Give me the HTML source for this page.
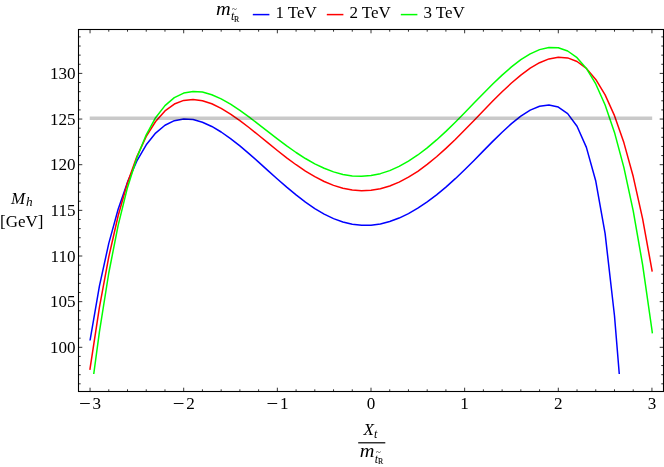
<!DOCTYPE html>
<html><head><meta charset="utf-8"><title>Mh plot</title>
<style>html,body{margin:0;padding:0;background:#fff;}body{width:664px;height:467px;overflow:hidden;}svg{display:block;will-change:transform;}text{font-family:"Liberation Serif",serif;fill:#000;}</style>
</head><body>
<svg width="664" height="467" viewBox="0 0 664 467">
<rect x="0" y="0" width="664" height="467" fill="#fff"/>
<path d="M90.03 340.50 L90.05 340.34 L99.41 286.17 L108.78 243.36 L118.14 209.24 L127.51 182.13 L136.88 160.91 L146.24 144.78 L155.60 133.07 L164.97 125.21 L174.33 120.66 L183.70 118.94 L193.06 119.59 L202.43 122.21 L211.79 126.45 L221.16 131.99 L230.52 138.56 L239.89 145.91 L249.25 153.84 L258.62 162.12 L267.99 170.57 L277.35 178.98 L286.71 187.17 L296.08 194.95 L305.44 202.14 L314.81 208.57 L324.18 214.11 L333.54 218.63 L342.90 222.04 L352.27 224.30 L361.63 225.36 L371.00 225.23 L380.37 223.94 L389.73 221.53 L399.10 218.06 L408.46 213.59 L417.82 208.18 L427.19 201.92 L436.56 194.86 L445.92 187.08 L455.29 178.68 L464.65 169.74 L474.01 160.42 L483.38 150.89 L492.75 141.39 L502.11 132.19 L511.48 123.64 L520.84 116.15 L530.21 110.16 L539.57 106.21 L548.94 104.91 L558.30 107.02 L567.66 113.60 L577.03 126.22 L586.39 147.36 L595.76 181.03 L605.12 233.70 L614.49 315.75 L619.28 374.00" fill="none" stroke="#0000ff" stroke-width="1.5" stroke-linejoin="round" stroke-linecap="butt"/>
<path d="M89.88 369.90 L90.05 368.70 L99.41 307.37 L108.78 256.88 L118.14 215.75 L127.51 182.69 L136.88 156.59 L146.24 136.47 L155.60 121.49 L164.97 110.90 L174.33 104.06 L183.70 100.40 L193.06 99.42 L202.43 100.67 L211.79 103.76 L221.16 108.31 L230.52 114.03 L239.89 120.60 L249.25 127.77 L258.62 135.29 L267.99 142.94 L277.35 150.52 L286.71 157.84 L296.08 164.74 L305.44 171.06 L314.81 176.68 L324.18 181.47 L333.54 185.35 L342.90 188.22 L352.27 190.02 L361.63 190.72 L371.00 190.27 L380.37 188.68 L389.73 185.95 L399.10 182.10 L408.46 177.19 L417.82 171.27 L427.19 164.44 L436.56 156.77 L445.92 148.40 L455.29 139.45 L464.65 130.07 L474.01 120.42 L483.38 110.69 L492.75 101.07 L502.11 91.77 L511.48 83.02 L520.84 75.08 L530.21 68.21 L539.57 62.72 L548.94 58.92 L558.30 57.18 L567.66 57.89 L577.03 61.48 L586.39 68.46 L595.76 79.39 L605.12 94.88 L614.49 115.67 L623.86 142.58 L633.22 176.55 L642.59 218.66 L651.95 270.17 L652.19 271.60" fill="none" stroke="#ff0000" stroke-width="1.5" stroke-linejoin="round" stroke-linecap="butt"/>
<path d="M93.74 374.00 L99.41 331.95 L108.78 273.00 L118.14 225.40 L127.51 187.44 L136.88 157.65 L146.24 134.77 L155.60 117.73 L164.97 105.60 L174.33 97.61 L183.70 93.07 L193.06 91.40 L202.43 92.09 L211.79 94.69 L221.16 98.83 L230.52 104.16 L239.89 110.36 L249.25 117.18 L258.62 124.36 L267.99 131.67 L277.35 138.92 L286.71 145.92 L296.08 152.50 L305.44 158.51 L314.81 163.82 L324.18 168.30 L333.54 171.87 L342.90 174.44 L352.27 175.94 L361.63 176.32 L371.00 175.56 L380.37 173.65 L389.73 170.60 L399.10 166.43 L408.46 161.20 L417.82 154.99 L427.19 147.86 L436.56 139.94 L445.92 131.35 L455.29 122.23 L464.65 112.75 L474.01 103.09 L483.38 93.44 L492.75 84.03 L502.11 75.09 L511.48 66.88 L520.84 59.69 L530.21 53.83 L539.57 49.63 L548.94 47.47 L558.30 47.78 L567.66 51.01 L577.03 57.71 L586.39 68.46 L595.76 83.95 L605.12 104.96 L614.49 132.41 L623.86 167.33 L633.22 210.92 L642.59 264.60 L651.95 329.99 L652.38 333.30" fill="none" stroke="#00ff00" stroke-width="1.5" stroke-linejoin="round" stroke-linecap="butt"/>
<line x1="89.7" y1="118.3" x2="652.2" y2="118.3" stroke="#000" stroke-opacity="0.21" stroke-width="3.6"/>
<path d="M90.05 391.50 v-3.80 M90.05 29.50 v3.80 M108.78 391.50 v-2.20 M108.78 29.50 v2.20 M127.51 391.50 v-2.20 M127.51 29.50 v2.20 M146.24 391.50 v-2.20 M146.24 29.50 v2.20 M164.97 391.50 v-2.20 M164.97 29.50 v2.20 M183.70 391.50 v-3.80 M183.70 29.50 v3.80 M202.43 391.50 v-2.20 M202.43 29.50 v2.20 M221.16 391.50 v-2.20 M221.16 29.50 v2.20 M239.89 391.50 v-2.20 M239.89 29.50 v2.20 M258.62 391.50 v-2.20 M258.62 29.50 v2.20 M277.35 391.50 v-3.80 M277.35 29.50 v3.80 M296.08 391.50 v-2.20 M296.08 29.50 v2.20 M314.81 391.50 v-2.20 M314.81 29.50 v2.20 M333.54 391.50 v-2.20 M333.54 29.50 v2.20 M352.27 391.50 v-2.20 M352.27 29.50 v2.20 M371.00 391.50 v-3.80 M371.00 29.50 v3.80 M389.73 391.50 v-2.20 M389.73 29.50 v2.20 M408.46 391.50 v-2.20 M408.46 29.50 v2.20 M427.19 391.50 v-2.20 M427.19 29.50 v2.20 M445.92 391.50 v-2.20 M445.92 29.50 v2.20 M464.65 391.50 v-3.80 M464.65 29.50 v3.80 M483.38 391.50 v-2.20 M483.38 29.50 v2.20 M502.11 391.50 v-2.20 M502.11 29.50 v2.20 M520.84 391.50 v-2.20 M520.84 29.50 v2.20 M539.57 391.50 v-2.20 M539.57 29.50 v2.20 M558.30 391.50 v-3.80 M558.30 29.50 v3.80 M577.03 391.50 v-2.20 M577.03 29.50 v2.20 M595.76 391.50 v-2.20 M595.76 29.50 v2.20 M614.49 391.50 v-2.20 M614.49 29.50 v2.20 M633.22 391.50 v-2.20 M633.22 29.50 v2.20 M651.95 391.50 v-3.80 M651.95 29.50 v3.80 M78.50 383.82 h2.20 M663.50 383.82 h-2.20 M78.50 374.69 h2.20 M663.50 374.69 h-2.20 M78.50 365.56 h2.20 M663.50 365.56 h-2.20 M78.50 356.43 h2.20 M663.50 356.43 h-2.20 M78.50 347.30 h3.80 M663.50 347.30 h-3.80 M78.50 338.17 h2.20 M663.50 338.17 h-2.20 M78.50 329.04 h2.20 M663.50 329.04 h-2.20 M78.50 319.91 h2.20 M663.50 319.91 h-2.20 M78.50 310.78 h2.20 M663.50 310.78 h-2.20 M78.50 301.65 h3.80 M663.50 301.65 h-3.80 M78.50 292.52 h2.20 M663.50 292.52 h-2.20 M78.50 283.39 h2.20 M663.50 283.39 h-2.20 M78.50 274.26 h2.20 M663.50 274.26 h-2.20 M78.50 265.13 h2.20 M663.50 265.13 h-2.20 M78.50 256.00 h3.80 M663.50 256.00 h-3.80 M78.50 246.87 h2.20 M663.50 246.87 h-2.20 M78.50 237.74 h2.20 M663.50 237.74 h-2.20 M78.50 228.61 h2.20 M663.50 228.61 h-2.20 M78.50 219.48 h2.20 M663.50 219.48 h-2.20 M78.50 210.35 h3.80 M663.50 210.35 h-3.80 M78.50 201.22 h2.20 M663.50 201.22 h-2.20 M78.50 192.09 h2.20 M663.50 192.09 h-2.20 M78.50 182.96 h2.20 M663.50 182.96 h-2.20 M78.50 173.83 h2.20 M663.50 173.83 h-2.20 M78.50 164.70 h3.80 M663.50 164.70 h-3.80 M78.50 155.57 h2.20 M663.50 155.57 h-2.20 M78.50 146.44 h2.20 M663.50 146.44 h-2.20 M78.50 137.31 h2.20 M663.50 137.31 h-2.20 M78.50 128.18 h2.20 M663.50 128.18 h-2.20 M78.50 119.05 h3.80 M663.50 119.05 h-3.80 M78.50 109.92 h2.20 M663.50 109.92 h-2.20 M78.50 100.79 h2.20 M663.50 100.79 h-2.20 M78.50 91.66 h2.20 M663.50 91.66 h-2.20 M78.50 82.53 h2.20 M663.50 82.53 h-2.20 M78.50 73.40 h3.80 M663.50 73.40 h-3.80 M78.50 64.27 h2.20 M663.50 64.27 h-2.20 M78.50 55.14 h2.20 M663.50 55.14 h-2.20 M78.50 46.01 h2.20 M663.50 46.01 h-2.20 M78.50 36.88 h2.20 M663.50 36.88 h-2.20" fill="none" stroke="#000" stroke-width="0.8"/>
<rect x="78.5" y="29.5" width="585.0" height="362.0" fill="none" stroke="#000" stroke-width="1.1"/>
<text x="75.6" y="352.8" font-size="17.1" text-anchor="end">100</text>
<text x="75.6" y="307.1" font-size="17.1" text-anchor="end">105</text>
<text x="75.6" y="261.5" font-size="17.1" text-anchor="end">110</text>
<text x="75.6" y="215.8" font-size="17.1" text-anchor="end">115</text>
<text x="75.6" y="170.2" font-size="17.1" text-anchor="end">120</text>
<text x="75.6" y="124.5" font-size="17.1" text-anchor="end">125</text>
<text x="75.6" y="78.9" font-size="17.1" text-anchor="end">130</text>
<line x1="80.1" y1="403.5" x2="89.8" y2="403.5" stroke="#000" stroke-width="0.95"/>
<text x="92.6" y="409.1" font-size="17.1" text-anchor="start">3</text>
<line x1="173.8" y1="403.5" x2="183.5" y2="403.5" stroke="#000" stroke-width="0.95"/>
<text x="186.3" y="409.1" font-size="17.1" text-anchor="start">2</text>
<line x1="267.5" y1="403.5" x2="277.2" y2="403.5" stroke="#000" stroke-width="0.95"/>
<text x="280.0" y="409.1" font-size="17.1" text-anchor="start">1</text>
<text x="371.0" y="409.1" font-size="17.1" text-anchor="middle">0</text>
<text x="464.6" y="409.1" font-size="17.1" text-anchor="middle">1</text>
<text x="558.3" y="409.1" font-size="17.1" text-anchor="middle">2</text>
<text x="652.0" y="409.1" font-size="17.1" text-anchor="middle">3</text>
<text x="11.0" y="203.7" font-size="17" font-style="italic">M</text>
<text x="26.0" y="206.4" font-size="13.3" font-style="italic">h</text>
<text x="21.8" y="227.0" font-size="17.0" text-anchor="middle">[GeV]</text>
<text x="363.4" y="434.5" font-size="17" font-style="italic">X</text>
<text x="374.0" y="437.6" font-size="12" font-style="italic">t</text>
<line x1="358.2" y1="442.8" x2="385.3" y2="442.8" stroke="#000" stroke-width="1.2"/>
<text transform="translate(359.80 457.00) scale(1.13 1)" x="0" y="0" font-size="18" font-style="italic">m</text>
<text x="374.7" y="462.7" font-size="12" font-style="italic">t</text>
<text x="375.9" y="454.5" font-size="9">~</text>
<text x="377.9" y="464.1" font-size="7.8" stroke="#000" stroke-width="0.12">R</text>
<text transform="translate(216.00 14.50) scale(1.13 1)" x="0" y="0" font-size="18" font-style="italic">m</text>
<text x="230.9" y="20.2" font-size="12" font-style="italic">t</text>
<text x="232.1" y="12.0" font-size="9">~</text>
<text x="234.1" y="21.6" font-size="7.8" stroke="#000" stroke-width="0.12">R</text>
<line x1="252.8" y1="14.6" x2="269.4" y2="14.6" stroke="#0000ff" stroke-width="1.5"/>
<text x="275.4" y="18.1" font-size="17.0">1 TeV</text>
<line x1="326.8" y1="14.6" x2="343.4" y2="14.6" stroke="#ff0000" stroke-width="1.5"/>
<text x="349.4" y="18.1" font-size="17.0">2 TeV</text>
<line x1="400.8" y1="14.6" x2="417.4" y2="14.6" stroke="#00ff00" stroke-width="1.5"/>
<text x="423.4" y="18.1" font-size="17.0">3 TeV</text>
</svg>
</body></html>
